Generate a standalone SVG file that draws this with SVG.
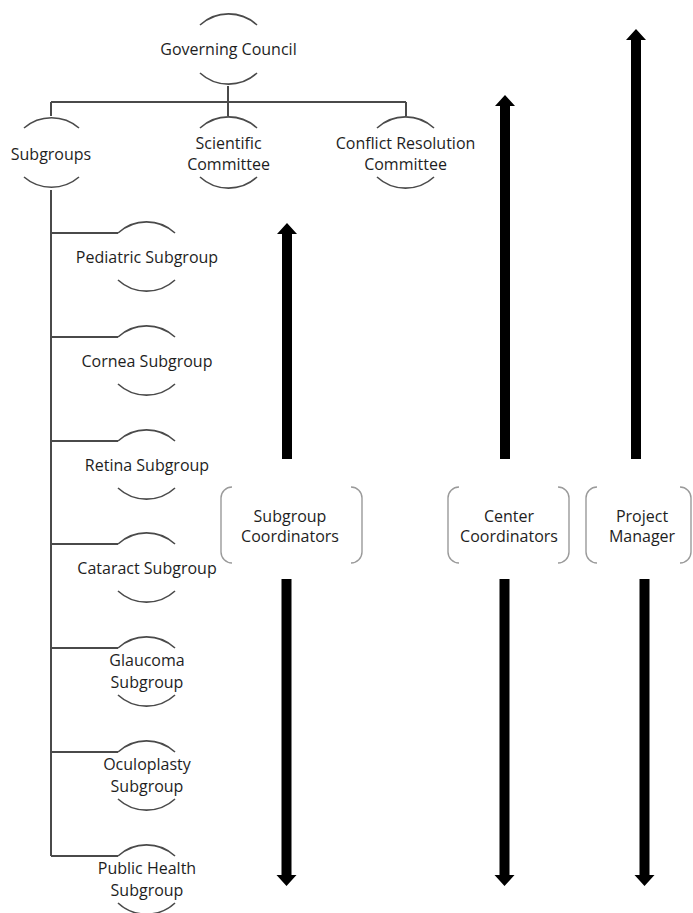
<svg xmlns="http://www.w3.org/2000/svg" width="693" height="913" viewBox="0 0 693 913">
<style>
.t{font-family:"Open Sans","Liberation Sans",sans-serif;font-size:16px;fill:#1e1e1e;text-anchor:middle}
.arc{fill:none;stroke:#4a4a4a;stroke-width:1.6}
.ln{fill:none;stroke:#4a4a4a;stroke-width:2}
.br{fill:none;stroke:#9a9a9a;stroke-width:1.4}
.ar{fill:#000}
</style>
<rect width="693" height="913" fill="#fff"/>
<g id="connectors">
<path class="ln" d="M228 86V102M51 102H406M51 102V116M228 102V116M406 102V116"/>
<path class="ln" d="M51 190V856M51 233H118M51 337H118M51 441H118M51 544H118M51 648H118M51 752H118M51 856H118"/>
<path class="ar" d="M287 223L297 234H292V459H282V234H277Z"/>
<path class="ar" d="M286.5 886L296.5 875H291.5V579H281.5V875H276.5Z"/>
<path class="ar" d="M505 95L515 106H510V459H500V106H495Z"/>
<path class="ar" d="M504.5 886L514.5 875H509.5V579H499.5V875H494.5Z"/>
<path class="ar" d="M636 29L646 40H641V459H631V40H626Z"/>
<path class="ar" d="M644.5 886L654.5 875H649.5V579H639.5V875H634.5Z"/>
</g>
<g id="governing-council">
<path class="arc" d="M200 25A42 42 0 0 1 257 25"/>
<text class="t" x="228.5" y="55">Governing Council</text>
<path class="arc" d="M200 73A42 42 0 0 0 257 73"/>
</g>
<g id="subgroups">
<path class="arc" d="M24 128A42 42 0 0 1 79 128"/>
<text class="t" x="51" y="160">Subgroups</text>
<path class="arc" d="M24 177A42 42 0 0 0 79 177"/>
</g>
<g id="scientific-committee">
<path class="arc" d="M200 128A42 42 0 0 1 257 128"/>
<text class="t" x="228.5" y="149">Scientific</text>
<text class="t" x="228.5" y="170">Committee</text>
<path class="arc" d="M200 177A42 42 0 0 0 257 177"/>
</g>
<g id="conflict-resolution-committee">
<path class="arc" d="M377 128A42 42 0 0 1 434 128"/>
<text class="t" x="405.5" y="149">Conflict Resolution</text>
<text class="t" x="405.5" y="170">Committee</text>
<path class="arc" d="M377 177A42 42 0 0 0 434 177"/>
</g>
<g id="pediatric-subgroup">
<path class="arc" d="M118 233A42 42 0 0 1 175 233"/>
<text class="t" x="147" y="263">Pediatric Subgroup</text>
<path class="arc" d="M118 280A42 42 0 0 0 175 280"/>
</g>
<g id="cornea-subgroup">
<path class="arc" d="M118 337A42 42 0 0 1 175 337"/>
<text class="t" x="147" y="367">Cornea Subgroup</text>
<path class="arc" d="M118 384A42 42 0 0 0 175 384"/>
</g>
<g id="retina-subgroup">
<path class="arc" d="M118 441A42 42 0 0 1 175 441"/>
<text class="t" x="147" y="471">Retina Subgroup</text>
<path class="arc" d="M118 488A42 42 0 0 0 175 488"/>
</g>
<g id="cataract-subgroup">
<path class="arc" d="M118 544A42 42 0 0 1 175 544"/>
<text class="t" x="147" y="574">Cataract Subgroup</text>
<path class="arc" d="M118 591A42 42 0 0 0 175 591"/>
</g>
<g id="glaucoma-subgroup">
<path class="arc" d="M118 648A42 42 0 0 1 175 648"/>
<text class="t" x="147" y="666">Glaucoma</text>
<text class="t" x="147" y="688">Subgroup</text>
<path class="arc" d="M118 695A42 42 0 0 0 175 695"/>
</g>
<g id="oculoplasty-subgroup">
<path class="arc" d="M118 752A42 42 0 0 1 175 752"/>
<text class="t" x="147" y="770">Oculoplasty</text>
<text class="t" x="147" y="792">Subgroup</text>
<path class="arc" d="M118 799A42 42 0 0 0 175 799"/>
</g>
<g id="public-health-subgroup">
<path class="arc" d="M118 856A42 42 0 0 1 175 856"/>
<text class="t" x="147" y="874">Public Health</text>
<text class="t" x="147" y="896">Subgroup</text>
<path class="arc" d="M118 903A42 42 0 0 0 175 903"/>
</g>
<g id="subgroup-coordinators">
<path class="br" d="M232 487A11 11 0 0 0 221 498V552A11 11 0 0 0 232 563M351 487A11 11 0 0 1 362 498V552A11 11 0 0 1 351 563"/>
<text class="t" x="290" y="522">Subgroup</text>
<text class="t" x="290" y="542">Coordinators</text>
</g>
<g id="center-coordinators">
<path class="br" d="M459 487A11 11 0 0 0 448 498V552A11 11 0 0 0 459 563M558 487A11 11 0 0 1 569 498V552A11 11 0 0 1 558 563"/>
<text class="t" x="509" y="522">Center</text>
<text class="t" x="509" y="542">Coordinators</text>
</g>
<g id="project-manager">
<path class="br" d="M597 487A11 11 0 0 0 586 498V552A11 11 0 0 0 597 563M680 487A11 11 0 0 1 691 498V552A11 11 0 0 1 680 563"/>
<text class="t" x="642" y="522">Project</text>
<text class="t" x="642" y="542">Manager</text>
</g>
</svg>
